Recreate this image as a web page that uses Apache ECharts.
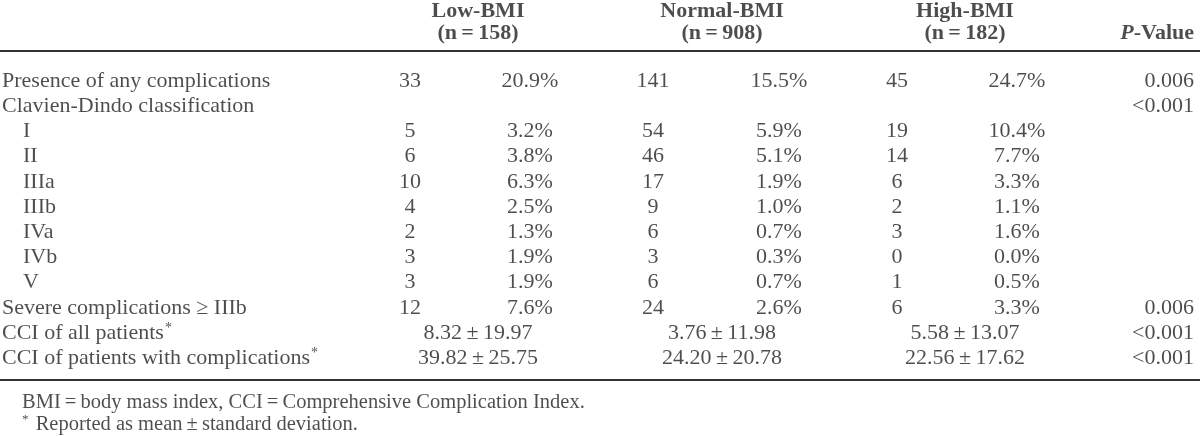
<!DOCTYPE html>
<html>
<head>
<meta charset="utf-8">
<script src="https://cdn.jsdelivr.net/npm/echarts@6/dist/echarts.min.js"></script>
<style>html,body{margin:0;padding:0;background:#fff;}#c{width:1200px;height:436px;}</style>
</head>
<body>
<div id="c"></div>
<script>
// ---- data ----
const rowLabels = ['Presence of any complications', 'Clavien-Dindo classification', 'I', 'II', 'IIIa', 'IIIb', 'IVa', 'IVb', 'V', 'Severe complications \u2265 IIIb', 'CCI of all patients', 'CCI of patients with complications'];
const rowIndented = [false, false, true, true, true, true, true, true, true, false, false, false];
const rowStarred = [false, false, false, false, false, false, false, false, false, false, true, true];
const groupNames = ['Low-BMI', 'Normal-BMI', 'High-BMI'];
const groupSizes = [158, 908, 182];
const lowN = [33, null, 5, 6, 10, 4, 2, 3, 3, 12, null, null];
const lowPct = [20.9, null, 3.2, 3.8, 6.3, 2.5, 1.3, 1.9, 1.9, 7.6, null, null];
const normN = [141, null, 54, 46, 17, 9, 6, 3, 6, 24, null, null];
const normPct = [15.5, null, 5.9, 5.1, 1.9, 1.0, 0.7, 0.3, 0.7, 2.6, null, null];
const highN = [45, null, 19, 14, 6, 2, 3, 0, 1, 6, null, null];
const highPct = [24.7, null, 10.4, 7.7, 3.3, 1.1, 1.6, 0.0, 0.5, 3.3, null, null];
const lowMean = [null, null, null, null, null, null, null, null, null, null, 8.32, 39.82];
const lowSD = [null, null, null, null, null, null, null, null, null, null, 19.97, 25.75];
const normMean = [null, null, null, null, null, null, null, null, null, null, 3.76, 24.20];
const normSD = [null, null, null, null, null, null, null, null, null, null, 11.98, 20.78];
const highMean = [null, null, null, null, null, null, null, null, null, null, 5.58, 22.56];
const highSD = [null, null, null, null, null, null, null, null, null, null, 13.07, 17.62];
const pValues = ['0.006', '<0.001', null, null, null, null, null, null, null, '0.006', '<0.001', '<0.001'];
const footnotes = ['BMI\u2009=\u2009body mass index, CCI\u2009=\u2009Comprehensive Complication Index.', 'Reported as mean\u2009\u00b1\u2009standard deviation.'];

// ---- layout ----
const FONT = '"Liberation Serif", "DejaVu Serif", serif';
const FS = 22;
const FS_NOTE = 20.5;
const COLOR = '#231f20';
const X = { label: 2, indent: 23, lowN: 410, lowP: 530, lowC: 478, normN: 653, normP: 779, normC: 722, highN: 897, highP: 1017, highC: 965, p: 1194 };

const baseLabel = { show: true, position: 'inside', color: COLOR, fontFamily: FONT, fontSize: FS };
function textSeries(gridIdx, pts, align, extra) {
  return {
    type: 'scatter', xAxisIndex: gridIdx, yAxisIndex: gridIdx, symbolSize: 0, silent: true,
    data: pts.map(p => ({ value: [p[0], p[1]], label: Object.assign({}, baseLabel, { align: align, formatter: p[2] }, extra || {}) })),
    animation: false
  };
}

const bodyRows = rowLabels.map((_, i) => String(i));
const series = [];

// row labels
series.push(textSeries(0, rowLabels.map((t, i) => [rowIndented[i] ? X.indent : X.label, String(i), rowStarred[i] ? '{t|' + t + '}{s|*}' : '{t|' + t + '}']), 'left', {
  rich: { t: { fontFamily: FONT, fontSize: FS, color: COLOR }, s: { fontFamily: FONT, fontSize: 14, color: COLOR, verticalAlign: 'top', padding: [0, 0, 10, 1] } }
}));
function col(arr, x, fmt) {
  const pts = [];
  arr.forEach((v, i) => { if (v !== null && v !== undefined) pts.push([x, String(i), fmt(v, i)]); });
  return pts;
}
const nf = v => String(v);
const pf = v => v.toFixed(1) + '%';
series.push(textSeries(0, col(lowN, X.lowN, nf), 'center'));
series.push(textSeries(0, col(lowPct, X.lowP, pf), 'center'));
series.push(textSeries(0, col(normN, X.normN, nf), 'center'));
series.push(textSeries(0, col(normPct, X.normP, pf), 'center'));
series.push(textSeries(0, col(highN, X.highN, nf), 'center'));
series.push(textSeries(0, col(highPct, X.highP, pf), 'center'));
const msd = (m, s) => (i) => m[i].toFixed(2) + '\u2009\u00b1\u2009' + s[i].toFixed(2);
series.push(textSeries(0, col(lowMean, X.lowC, (v, i) => msd(lowMean, lowSD)(i)), 'center'));
series.push(textSeries(0, col(normMean, X.normC, (v, i) => msd(normMean, normSD)(i)), 'center'));
series.push(textSeries(0, col(highMean, X.highC, (v, i) => msd(highMean, highSD)(i)), 'center'));
series.push(textSeries(0, col(pValues, X.p, v => v), 'right'));

// header
const boldLbl = { fontWeight: 'bold' };
const gx = [X.lowC, X.normC, X.highC];
series.push(textSeries(1, groupNames.map((g, i) => [gx[i], 'h1', g]), 'center', boldLbl));
series.push(textSeries(1, groupSizes.map((n, i) => [gx[i], 'h2', '(n\u2009=\u2009' + n + ')']), 'center', boldLbl));
series.push(textSeries(1, [[X.p, 'h2', '{i|P}{b|-Value}']], 'right', {
  rich: { i: { fontFamily: FONT, fontSize: FS, color: COLOR, fontWeight: 'bold', fontStyle: 'italic' }, b: { fontFamily: FONT, fontSize: FS, color: COLOR, fontWeight: 'bold' } }
}));

// footnotes
series.push(textSeries(2, [[22, 'f1', footnotes[0]]], 'left', { fontSize: FS_NOTE }));
series.push(textSeries(2, [[22, 'f2', '{s|*}{t| ' + footnotes[1] + '}']], 'left', {
  rich: { t: { fontFamily: FONT, fontSize: FS_NOTE, color: COLOR }, s: { fontFamily: FONT, fontSize: 13, color: COLOR, verticalAlign: 'top', padding: [0, 2, 10, 0] } }
}));

const hiddenX = (gi) => ({ type: 'value', gridIndex: gi, min: 0, max: 1200, show: false });
const hiddenY = (gi, data) => ({ type: 'category', gridIndex: gi, data: data, inverse: true, show: false });

const option = {
  backgroundColor: '#ffffff',
  animation: false,
  grid: [
    { left: 0, right: 0, top: 68.4, height: 302.4 },
    { left: 0, right: 0, top: -1.5, height: 46 },
    { left: 0, right: 0, top: 392, height: 44 }
  ],
  xAxis: [hiddenX(0), hiddenX(1), hiddenX(2)],
  yAxis: [hiddenY(0, bodyRows), hiddenY(1, ['h1', 'h2']), hiddenY(2, ['f1', 'f2'])],
  graphic: [
    { type: 'rect', shape: { x: 0, y: 50, width: 1200, height: 2 }, style: { fill: '#333' }, silent: true },
    { type: 'rect', shape: { x: 0, y: 379, width: 1200, height: 2 }, style: { fill: '#333' }, silent: true }
  ],
  series: series
};
const chart = echarts.init(document.getElementById('c'), null, { renderer: 'canvas' });
chart.setOption(option);
</script>
</body>
</html>
